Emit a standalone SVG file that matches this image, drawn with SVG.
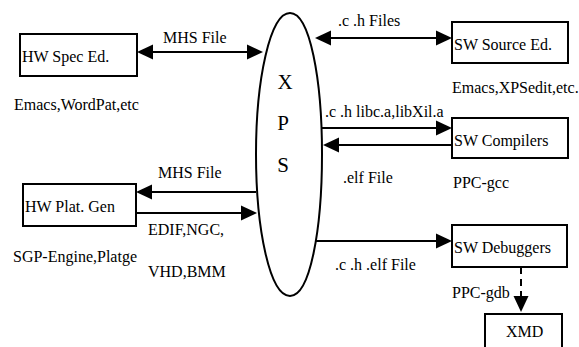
<svg xmlns="http://www.w3.org/2000/svg" width="579" height="347" viewBox="0 0 579 347" font-family="'Liberation Serif', 'Times New Roman', serif">
<style>
text{font-family:"Liberation Serif","Times New Roman",serif;font-size:16px;fill:#000}
.box{fill:#fff;stroke:#000;stroke-width:2}
.ln{fill:none;stroke:#000;stroke-width:2}
.big{font-size:21px}
</style>
<defs>
<marker id="ah" viewBox="0 0 16 16" refX="12" refY="8" markerWidth="16" markerHeight="16" markerUnits="userSpaceOnUse" orient="auto-start-reverse">
<path d="M0,0.5 L16,8 L0,15.5 Z" fill="#000"/>
</marker>
</defs>
<g id="xps">
<path class="ln" d="M290,13 C310,13 322,80 322,154 C322,230 310,296 290,296 C270,296 256,230 256,154 C256,80 270,13 290,13 Z"/>
<text class="big" x="285" y="89" text-anchor="middle">X</text>
<text class="big" x="283" y="130" text-anchor="middle">P</text>
<text class="big" x="283" y="172" text-anchor="middle">S</text>
</g>
<g id="hw-spec">
<rect class="box" x="20" y="34" width="117" height="42"/>
<text x="22" y="62">HW Spec Ed.</text>
<text x="14" y="110">Emacs,WordPat,etc</text>
</g>
<g id="hw-plat">
<rect class="box" x="23" y="184" width="113" height="42"/>
<text x="25" y="212">HW Plat. Gen</text>
<text x="13" y="262">SGP-Engine,Platge</text>
</g>
<g id="sw-source">
<rect class="box" x="452" y="22" width="116" height="41"/>
<text x="454" y="50">SW Source Ed.</text>
<text x="452" y="93">Emacs,XPSedit,etc.</text>
</g>
<g id="sw-comp">
<rect class="box" x="452" y="118" width="116" height="40"/>
<text x="454" y="146">SW Compilers</text>
<text x="453" y="188">PPC-gcc</text>
</g>
<g id="sw-debug">
<rect class="box" x="452" y="225" width="115" height="42"/>
<text x="454" y="253">SW Debuggers</text>
</g>
<g id="xmd">
<rect class="box" x="485" y="314" width="77" height="40"/>
<text x="506" y="337">XMD</text>
</g>
<g id="connectors">
<path class="ln" d="M141,52 L259,52" marker-start="url(#ah)" marker-end="url(#ah)"/>
<text x="163" y="43">MHS File</text>
<path class="ln" d="M319,38 L448,38" marker-start="url(#ah)" marker-end="url(#ah)"/>
<text x="338" y="26">.c .h Files</text>
<path class="ln" d="M322,128 L448,128" marker-end="url(#ah)"/>
<text x="325" y="117">.c .h libc.a,libXil.a</text>
<path class="ln" d="M452,145 L327,145" marker-end="url(#ah)"/>
<text x="343" y="183">.elf File</text>
<path class="ln" d="M256,192 L140,192" marker-end="url(#ah)"/>
<text x="158" y="178">MHS File</text>
<path class="ln" d="M136,213 L253,213" marker-end="url(#ah)"/>
<text x="148" y="235">EDIF,NGC,</text>
<text x="148" y="277">VHD,BMM</text>
<path class="ln" d="M316,241 L448,241" marker-end="url(#ah)"/>
<text x="335" y="270">.c .h .elf File</text>
<path class="ln" d="M521,267 L521,308" stroke-dasharray="7,5" marker-end="url(#ah)"/>
<text x="452" y="298">PPC-gdb</text>
</g>
</svg>
